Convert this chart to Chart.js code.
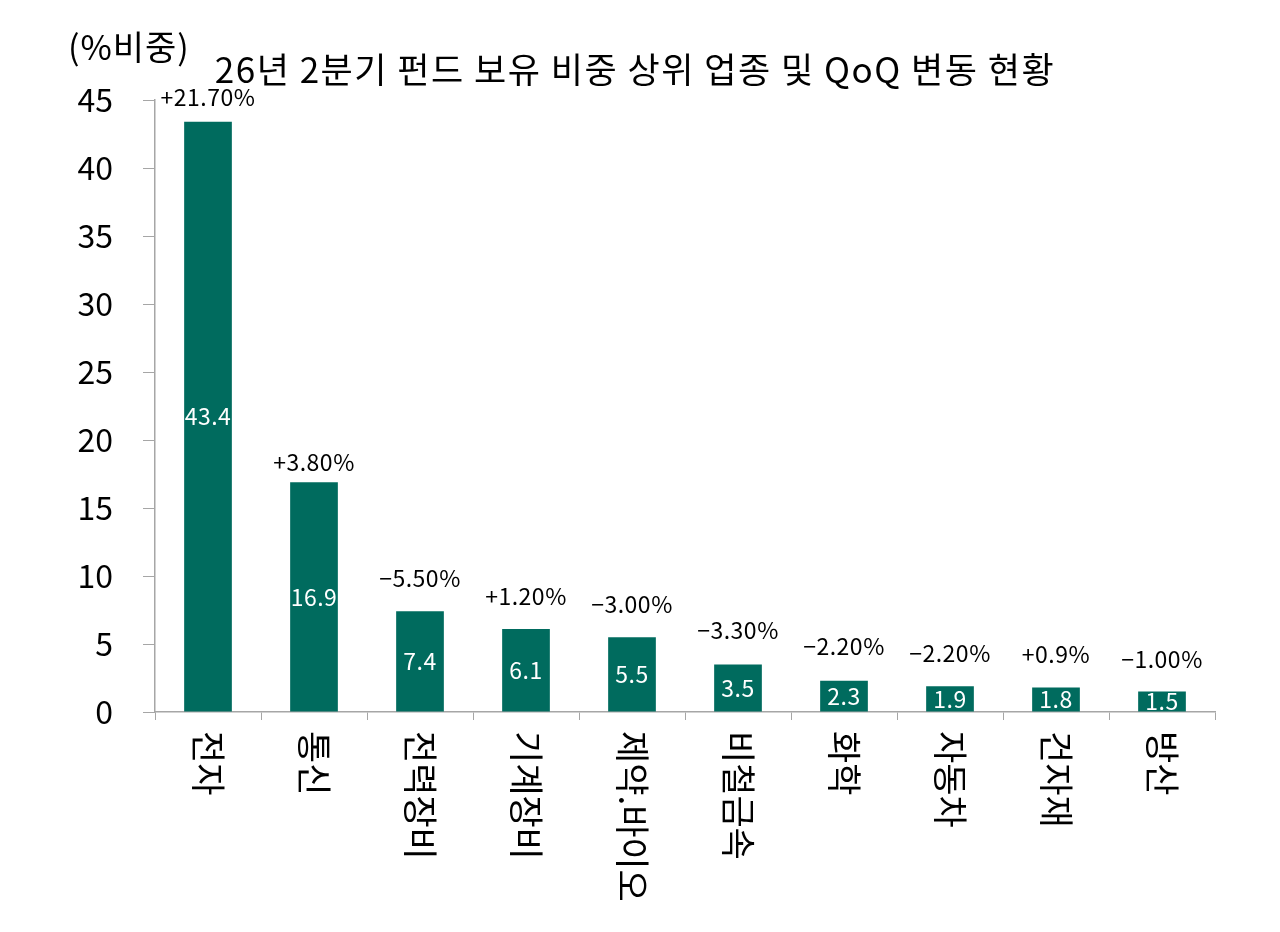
<!DOCTYPE html>
<html>
<head>
<meta charset="utf-8">
<script src="https://cdn.jsdelivr.net/npm/chart.js@4.4.1/dist/chart.umd.min.js"></script>
<style>
  html, body { margin: 0; padding: 0; background: #fff; }
</style>
</head>
<body>
<canvas id="chart" width="1280" height="932"></canvas>
<script>
// 업종
const sectors = ['전자', '통신', '전력장비', '기계장비', '제약.바이오', '비철금속', '화학', '자동차', '건자재', '방산'];
// 보유 비중 (%)
const weights = [43.4, 16.9, 7.4, 6.1, 5.5, 3.5, 2.3, 1.9, 1.8, 1.5];
// QoQ 변동
const qoqChange = ['+21.70%', '+3.80%', '−5.50%', '+1.20%', '−3.00%', '−3.30%', '−2.20%', '−2.20%', '+0.9%', '−1.00%'];
// y축 눈금
const yTicks = [0, 5, 10, 15, 20, 25, 30, 35, 40, 45];

const FONT = '"Noto Sans CJK KR", "Noto Sans", sans-serif';
const barColor = '#006b5e';
const axisColor = '#a6a6a6';

// 제목, 단위, 막대 라벨, 세로 업종명
const textPlugin = {
  id: 'barText',
  afterDraw(chart, args, opts) {
    const ctx = chart.ctx;
    const meta = chart.getDatasetMeta(0);
    const xScale = chart.scales.x;
    ctx.save();
    ctx.fillStyle = '#000';
    ctx.textBaseline = 'middle';

    ctx.textAlign = 'center';
    ctx.font = '35px ' + FONT;
    ctx.letterSpacing = '1.5px';
    ctx.fillText(opts.title, 635, 70);

    ctx.textAlign = 'left';
    ctx.font = '34px ' + FONT;
    ctx.letterSpacing = '1px';
    ctx.fillText(opts.unit, 68, 47);

    ctx.textAlign = 'center';
    ctx.font = '23px ' + FONT;
    ctx.letterSpacing = '0.5px';
    meta.data.forEach((bar, i) => {
      ctx.fillStyle = '#fff';
      ctx.fillText(weights[i].toFixed(1), bar.x, (bar.y + bar.base) / 2);
      ctx.fillStyle = '#000';
      ctx.fillText(qoqChange[i], bar.x, bar.y - opts.gaps[i]);
    });

    ctx.font = '35px ' + FONT;
    ctx.letterSpacing = '0px';
    ctx.textAlign = 'left';
    sectors.forEach((s, i) => {
      ctx.save();
      ctx.translate(xScale.getPixelForValue(i), xScale.top + 19);
      ctx.rotate(Math.PI / 2);
      ctx.fillText(s, 0, 0);
      ctx.restore();
    });
    ctx.restore();
  }
};

new Chart(document.getElementById('chart'), {
  type: 'bar',
  plugins: [textPlugin],
  data: {
    labels: sectors,
    datasets: [{
      data: weights,
      backgroundColor: barColor,
      categoryPercentage: 1,
      barPercentage: 0.45,
    }],
  },
  options: {
    responsive: false,
    animation: false,
    layout: { padding: { top: 100, right: 65, bottom: 0, left: 0 } },
    plugins: {
      legend: { display: false },
      tooltip: { enabled: false },
      barText: {
        title: '26년 2분기 펀드 보유 비중 상위 업종 및 QoQ 변동 현황',
        unit: '(%비중)',
        gaps: [24, 20, 33, 33, 33, 34, 34, 33, 33, 32],
      },
    },
    scales: {
      x: {
        grid: { drawOnChartArea: false, tickLength: 8, color: axisColor, offset: true },
        border: { color: axisColor, width: 1.5 },
        ticks: { display: false },
        afterFit: (s) => { s.height = 220; },
      },
      y: {
        min: 0,
        max: 45,
        afterBuildTicks: (s) => { s.ticks = yTicks.map(v => ({ value: v })); },
        grid: { drawOnChartArea: false, tickLength: 12, color: axisColor },
        border: { color: axisColor, width: 1.5 },
        ticks: { padding: 30, color: '#000', font: { family: FONT, size: 32 } },
        afterFit: (s) => { s.width = 155; },
      },
    },
  },
});
</script>
</body>
</html>
